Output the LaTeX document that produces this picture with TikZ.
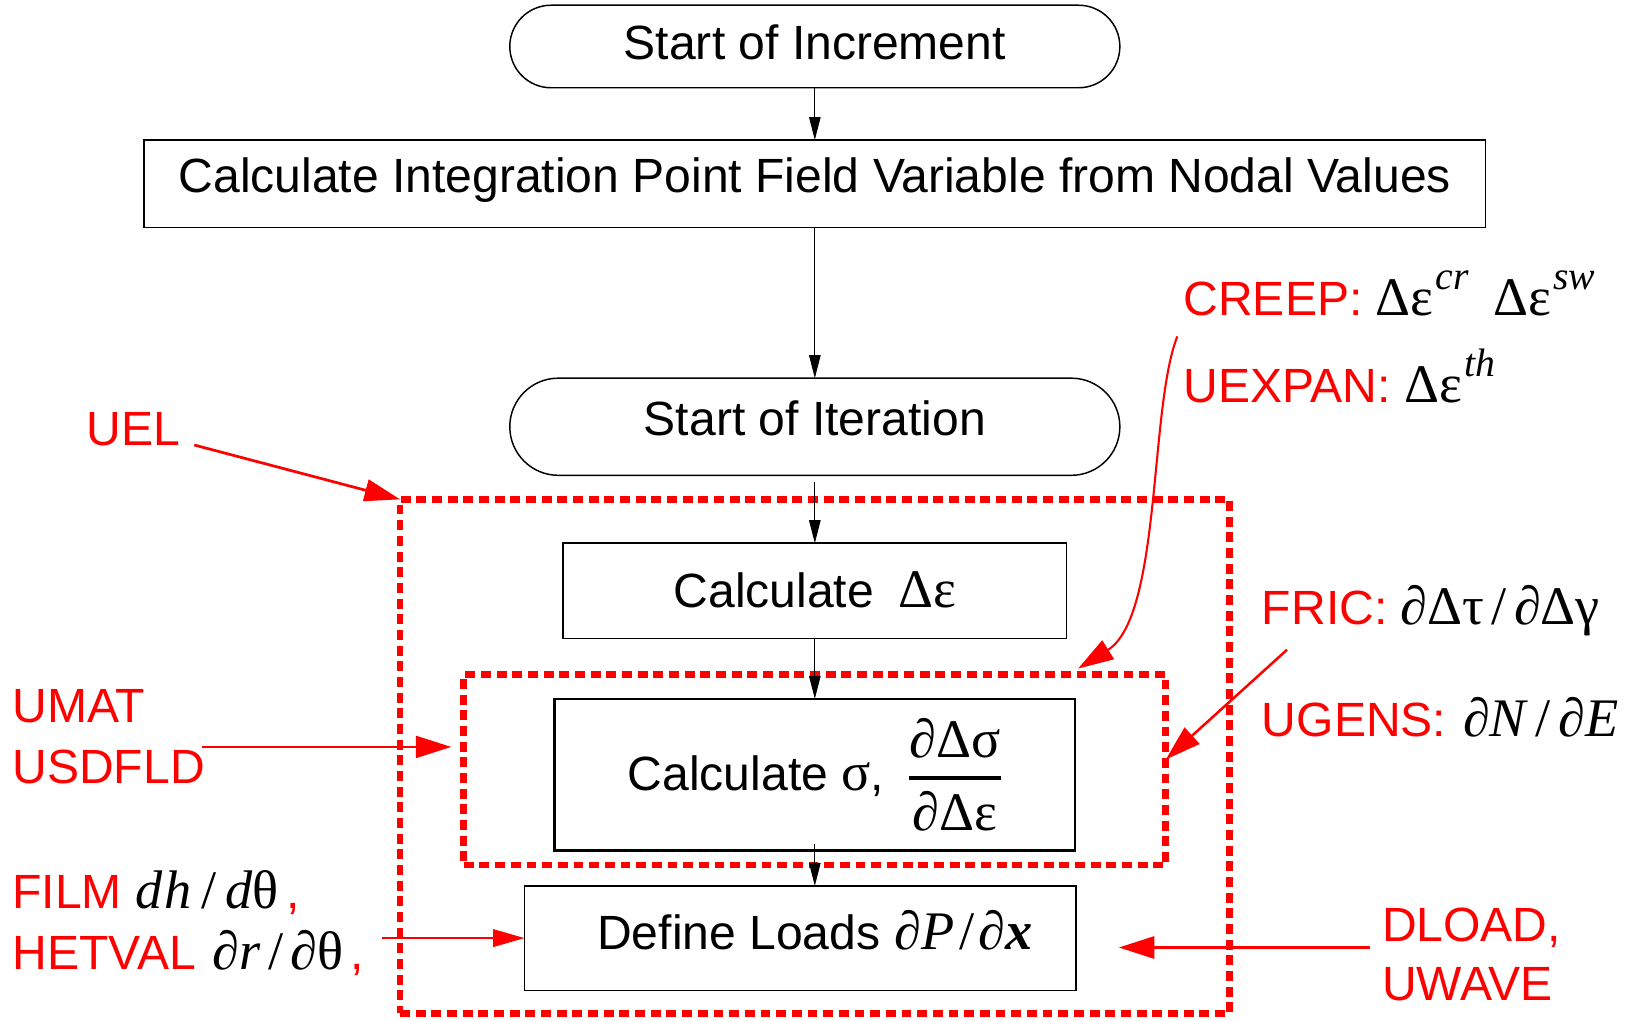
\RequirePackage{fix-cm}
\documentclass[tikz,border=0pt]{standalone}
\usepackage{amsmath}
\usepackage{fontspec}
\setmainfont{Liberation Sans}
\newfontfamily\tms{Liberation Serif}
\usetikzlibrary{arrows.meta}
\newcommand\supx[1]{\kern2pt\raisebox{25pt}{\fontsize{38}{38}\selectfont\tms\itshape #1}}
\newcommand\gk[1]{{\fontsize{52}{58}\selectfont\tms #1}}
\newcommand\sls{\kern7pt/\kern7pt}
\begin{document}
\begin{tikzpicture}[x=1pt,y=-1pt,
  every node/.style={inner sep=0pt, outer sep=0pt, font=\fontsize{46}{54}\selectfont},
  box/.style={draw=black, line width=1.4pt, text height=34pt, text depth=18pt},
  term/.style={box, rounded corners=#1},
  flow/.style={draw=black, line width=1pt, -{Triangle[length=22pt,width=11pt]}},
  reddash/.style={draw=red, line width=6.5pt, dash pattern=on 9.5pt off 5.5pt},
  redtext/.style={text=red, anchor=base west},
  rarr/.style={draw=red, line width=#1, -{Triangle[length=34pt,width=21pt]}},
]
\useasboundingbox (0,0) rectangle (1568,977);
% red dashed frames
\node[reddash, minimum width=794pt, minimum height=492pt] (outer) at (780,724) {};
\node[reddash, minimum width=672pt, minimum height=182pt] (inner) at (780,737) {};
% flow boxes
\node[term=39.5pt, text depth=10pt, minimum width=584pt, minimum height=79pt] (inc) at (780,44.5) {Start of Increment};
\node[box, minimum width=1284pt, minimum height=84pt] (calc) at (780,176) {Calculate Integration Point Field Variable from Nodal Values};
\node[term=46.5pt, minimum width=584pt, minimum height=93pt] (iter) at (780,408.5) {Start of Iteration};
\node[box, text depth=2pt, minimum width=482pt, minimum height=91pt] (de) at (780,565.5) {Calculate\hspace{0.5em}\gk{Δε}};
\node[draw=black, line width=2.6pt, minimum width=498pt, minimum height=145pt] (sig) at (780,741.5) {Calculate \gk{σ},\hspace{0.5em}$\genfrac{}{}{3.5pt}{0}{\hbox{\gk{∂Δσ}}}{\hbox{\gk{∂Δε}}}$};
\node[box, minimum width=528pt, minimum height=100pt] (loads) at (766,898) {};
\node[text height=34pt, text depth=12pt] (loadstxt) at (780,898) {Define Loads\hspace{0.3em}\gk{∂\textit{P}\kern4pt/\kern4pt∂\textbf{\textit{x}}}};
% flow arrows
\draw[flow] (inc) -- (calc);
\draw[flow] (calc) -- (iter);
\draw[flow, shorten <=6pt] (iter) -- (de);
\draw[flow] (de) -- (sig);
\draw[flow, shorten <=-6pt] (sig.south) -- (sig.south |- loads.north);
% red labels
\node[redtext] (creep) at (1133,302) {CREEP: \gk{\color{black}Δε\supx{cr}\hspace{0.45em}Δε\supx{sw}}};
\node[redtext] (uexpan) at (1133,385) {UEXPAN: \gk{\color{black}Δε\supx{th}}};
\node[redtext] (uel) at (83,426) {UEL};
\node[redtext] (umat) at (12,692) {UMAT};
\node[redtext] (usdfld) at (12,750) {USDFLD};
\node[redtext] (fric) at (1208,598) {FRIC: \gk{\color{black}∂Δτ\sls∂Δγ}};
\node[redtext] (ugens) at (1208,705) {UGENS:\hspace{0.35em}\gk{\color{black}∂\textit{N}\sls∂\textit{E}}};
\node[redtext] (film) at (12,870) {FILM \gk{\color{black}\textit{d\kern2pt h}\kern9pt/\kern9pt\textit{d}θ}\kern7pt,};
\node[redtext] (hetval) at (12,928) {HETVAL\hspace{0.35em}\gk{\color{black}∂\textit{r}\sls∂θ}\kern7pt,};
\node[redtext] (dload) at (1323,901) {DLOAD,};
\node[redtext] (uwave) at (1323,958) {UWAVE};
% red connectors
\coordinate (uelt) at (186,426);
\draw[rarr=2.6pt] (uelt) -- (outer.north west);
\coordinate (umatt) at (193,715);
\coordinate (umath) at (432,715);
\draw[rarr=2.4pt] (umatt) -- (umath);
\coordinate (creept) at (1127,322);
\coordinate (creeph) at (1032,640);
\draw[rarr=2pt] (creept) .. controls (1100,390) and (1112,590) .. (creeph);
\coordinate (frict) at (1232,622);
\coordinate (frich) at (1116,727);
\draw[rarr=2.4pt] (frict) -- (frich);
\coordinate (hett) at (366,898);
\draw[draw=red, line width=1.2pt, -{Triangle[length=30pt,width=17pt]}] (hett) -- (loads.west);
\coordinate (dloadt) at (1311,907);
\coordinate (dloadh) at (1071,907);
\draw[rarr=3pt] (dloadt) -- (dloadh);
\end{tikzpicture}
\end{document}
